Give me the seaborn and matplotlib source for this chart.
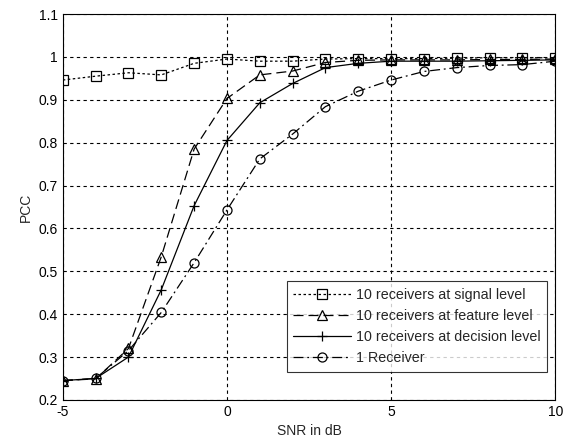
import numpy as np
import pandas as pd
import seaborn as sns
import matplotlib
matplotlib.use('Agg')
import matplotlib.pyplot as plt
from matplotlib.ticker import FuncFormatter

# values
snr = [-5, -4, -3, -2, -1, 0, 1, 2, 3, 4, 5, 6, 7, 8, 9, 10]
signal_level = [0.946, 0.955, 0.963, 0.958, 0.985, 0.995, 0.990, 0.990, 0.995, 0.996, 0.996, 0.996, 0.997, 0.998, 0.998, 0.998]
feature_level = [0.245, 0.249, 0.320, 0.534, 0.785, 0.903, 0.958, 0.967, 0.987, 0.992, 0.993, 0.993, 0.993, 0.994, 0.994, 0.995]
decision_level = [0.245, 0.250, 0.300, 0.457, 0.653, 0.805, 0.893, 0.938, 0.975, 0.985, 0.990, 0.990, 0.990, 0.991, 0.992, 0.993]
one_receiver = [0.245, 0.250, 0.315, 0.404, 0.520, 0.643, 0.762, 0.820, 0.884, 0.920, 0.946, 0.966, 0.975, 0.980, 0.982, 0.990]

labels = ['10 receivers at signal level', '10 receivers at feature level',
          '10 receivers at decision level', '1 Receiver']
series = [signal_level, feature_level, decision_level, one_receiver]
markers = ['s', '^', '+', 'o']
styles = [(0, (2, 2)), (0, (8, 4)), '-', (0, (8, 3, 1.5, 3))]

sns.set_style('white')
plt.rcParams['font.family'] = ['Liberation Sans', 'DejaVu Sans']
plt.rcParams['axes.unicode_minus'] = False

fig = plt.figure(figsize=(5.66, 4.38), dpi=100)
ax = fig.add_axes([0.111, 0.087, 0.870, 0.881])

for lab, vals, mk, ls in zip(labels, series, markers, styles):
    df = pd.DataFrame({'SNR': snr, 'PCC': vals})
    sns.lineplot(data=df, x='SNR', y='PCC', ax=ax, color='black', linewidth=0.9,
                 linestyle=ls, marker=mk, markersize=7.5 if mk == '+' else 6.5,
                 markerfacecolor='none', markeredgecolor='black',
                 markeredgewidth=0.9, label=lab)

ax.set_xlim(-5, 10)
ax.set_ylim(0.2, 1.1)
ax.set_xticks([-5, 0, 5, 10])
ax.set_yticks(np.round(np.arange(0.2, 1.11, 0.1), 1))
ax.yaxis.set_major_formatter(FuncFormatter(lambda v, p: ('%g' % round(v, 1))))
ax.grid(True, color='black', linestyle=(0, (3, 3)), linewidth=0.8)
for s in ax.spines.values():
    s.set_color('black')
    s.set_linewidth(0.8)
ax.tick_params(direction='in', length=4, labelsize=10, colors='black')
ax.set_xlabel('SNR in dB', fontsize=10)
ax.set_ylabel('PCC', fontsize=10)

leg = ax.legend(loc='lower right', bbox_to_anchor=(0.9985, 0.055), fontsize=10.3,
                frameon=True, fancybox=False, edgecolor='black',
                handlelength=4.0, borderpad=0.45, labelspacing=0.5,
                handletextpad=0.4)
leg.get_frame().set_linewidth(0.8)

fig.savefig('out.png', dpi=100)
